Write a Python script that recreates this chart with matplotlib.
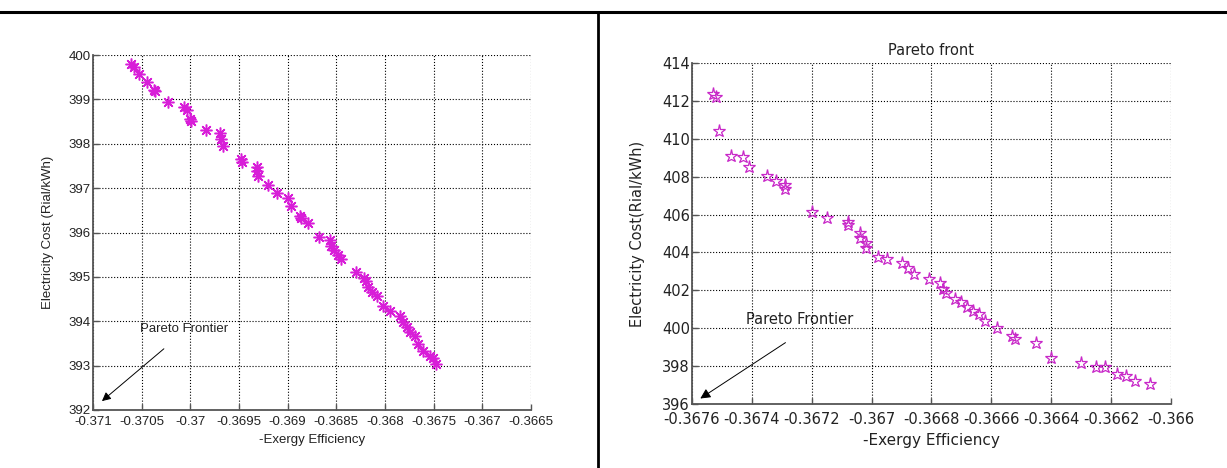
import matplotlib.pyplot as plt
from matplotlib.lines import Line2D

plt.rcParams['font.family'] = ['Liberation Sans', 'DejaVu Sans']

# left panel: '*' markers
left_x = [-0.37061, -0.37058, -0.37053, -0.37045, -0.37037, -0.37036, -0.37023, -0.37006,
          -0.37003, -0.37000, -0.36999, -0.36984, -0.36970, -0.36968, -0.36966, -0.36948,
          -0.36947, -0.36932, -0.36931, -0.36930, -0.36920, -0.36911, -0.36900, -0.36897,
          -0.36887, -0.36886, -0.36879, -0.36868, -0.36857, -0.36855, -0.36852, -0.36848,
          -0.36845, -0.36830, -0.36822, -0.36820, -0.36817, -0.36813, -0.36808, -0.36802,
          -0.36795, -0.36785, -0.36782, -0.36777, -0.36774, -0.36769, -0.36766, -0.36761,
          -0.36754, -0.36751, -0.36748]
left_y = [399.80, 399.74, 399.57, 399.39, 399.21, 399.18, 398.95, 398.82,
          398.76, 398.56, 398.51, 398.30, 398.24, 398.10, 397.94, 397.66,
          397.59, 397.48, 397.38, 397.28, 397.08, 396.89, 396.78, 396.60,
          396.37, 396.32, 396.22, 395.89, 395.83, 395.70, 395.60, 395.50,
          395.40, 395.12, 394.98, 394.91, 394.77, 394.66, 394.56, 394.35,
          394.22, 394.11, 393.98, 393.86, 393.76, 393.67, 393.49, 393.32,
          393.21, 393.17, 393.03]

# right panel: star markers
right_x = [-0.36753, -0.36752, -0.36751, -0.36747, -0.36743, -0.36741, -0.36735, -0.36732,
           -0.36729, -0.36729, -0.36720, -0.36715, -0.36708, -0.36708, -0.36704, -0.36704,
           -0.36702, -0.36702, -0.36698, -0.36695, -0.36690, -0.36688, -0.36686, -0.36681,
           -0.36677, -0.36676, -0.36675, -0.36672, -0.36670, -0.36668, -0.36666, -0.36664,
           -0.36662, -0.36658, -0.36653, -0.36652, -0.36645, -0.36640, -0.36630, -0.36625,
           -0.36622, -0.36618, -0.36615, -0.36612, -0.36607]
right_y = [412.35, 412.19, 410.41, 409.11, 409.02, 408.49, 408.05, 407.79,
           407.56, 407.33, 406.15, 405.83, 405.59, 405.45, 405.01, 404.78,
           404.48, 404.22, 403.74, 403.65, 403.42, 403.16, 402.86, 402.58,
           402.40, 402.05, 401.84, 401.52, 401.40, 401.13, 400.91, 400.73,
           400.38, 399.99, 399.59, 399.41, 399.20, 398.41, 398.18, 397.93,
           397.97, 397.58, 397.49, 397.23, 397.05]

left_xticks = [-0.371, -0.3705, -0.37, -0.3695, -0.369, -0.3685, -0.368, -0.3675, -0.367, -0.3665]
left_xlabels = ['-0.371', '-0.3705', '-0.37', '-0.3695', '-0.369', '-0.3685', '-0.368', '-0.3675', '-0.367', '-0.3665']
left_yticks = [392, 393, 394, 395, 396, 397, 398, 399, 400]
right_xticks = [-0.3676, -0.3674, -0.3672, -0.367, -0.3668, -0.3666, -0.3664, -0.3662, -0.366]
right_xlabels = ['-0.3676', '-0.3674', '-0.3672', '-0.367', '-0.3668', '-0.3666', '-0.3664', '-0.3662', '-0.366']
right_yticks = [396, 398, 400, 402, 404, 406, 408, 410, 412, 414]

W, H = 1227, 468
fig = plt.figure(figsize=(W / 100, H / 100), dpi=100)

# table frame lines
fig.add_artist(Line2D([0, 1], [1 - 12 / H, 1 - 12 / H], color='black', lw=2.2))
fig.add_artist(Line2D([598 / W, 598 / W], [0, 1 - 12 / H], color='black', lw=2.0))

TXT = '#222222'


def style(ax, fs, fam, xpad):
    for s in ['top', 'right']:
        ax.spines[s].set_visible(False)
    for s in ['left', 'bottom']:
        ax.spines[s].set_color('#555555')
        ax.spines[s].set_linewidth(1.3)
    ax.grid(True, linestyle=':', color='black', linewidth=0.8)
    ax.tick_params(direction='in', length=4, width=1, colors='#555555', labelcolor=TXT,
                   labelsize=fs, pad=1.5)
    ax.tick_params(axis='x', pad=xpad)
    for lab in ax.get_xticklabels() + ax.get_yticklabels():
        lab.set_family(fam)


ax1 = fig.add_axes([93 / W, 1 - 410 / H, (531 - 93) / W, (410 - 55) / H])
ax1.plot(left_x, left_y, linestyle='none', marker=(8, 2, 0), markersize=8.5, color='#d81ed8',
         markeredgewidth=1.1)
ax1.set_xlim(-0.371, -0.3665)
ax1.set_ylim(392, 400)
ax1.set_xticks(left_xticks)
ax1.set_xticklabels(left_xlabels)
ax1.set_yticks(left_yticks)
style(ax1, 9.5, 'Liberation Sans', 4.5)
ax1.set_xlabel('-Exergy Efficiency', fontsize=9.5, color=TXT)
ax1.xaxis.set_label_coords(0.5, -0.068)
ax1.set_ylabel('Electricity Cost (Rial/kWh)', fontsize=9.5, color=TXT)
ax1.yaxis.set_label_coords(-0.088, 0.5)
ax1.annotate('', xy=(-0.37093, 392.16), xytext=(-0.37025, 393.42),
             arrowprops=dict(arrowstyle='-|>', color='black', lw=0.7, mutation_scale=13))
ax1.text(-0.37052, 393.83, 'Pareto Frontier', fontsize=9.5, va='center', ha='left', color=TXT)

ax2 = fig.add_axes([692 / W, 1 - 404 / H, (1171 - 692) / W, (404 - 63) / H])
ax2.plot(right_x, right_y, linestyle='none', marker='*', markersize=9.5, markerfacecolor='none',
         markeredgecolor='#c828c8', markeredgewidth=0.9)
ax2.set_xlim(-0.3676, -0.366)
ax2.set_ylim(396, 414)
ax2.set_xticks(right_xticks)
ax2.set_xticklabels(right_xlabels)
ax2.set_yticks(right_yticks)
style(ax2, 10.5, 'DejaVu Sans', 5.5)
ax2.set_title('Pareto front', fontsize=10.5, pad=6, color=TXT, family='DejaVu Sans')
ax2.set_xlabel('-Exergy Efficiency', fontsize=11, color=TXT, family='DejaVu Sans')
ax2.xaxis.set_label_coords(0.5, -0.085)
ax2.set_ylabel('Electricity Cost(Rial/kWh)', fontsize=10.5, color=TXT, family='DejaVu Sans')
ax2.yaxis.set_label_coords(-0.098, 0.5)
ax2.annotate('', xy=(-0.36758, 396.21), xytext=(-0.36728, 399.32),
             arrowprops=dict(arrowstyle='-|>', color='black', lw=0.7, mutation_scale=15))
ax2.text(-0.36742, 400.48, 'Pareto Frontier', fontsize=10.5, va='center', ha='left', color=TXT,
         family='DejaVu Sans')

fig.savefig('out.png', dpi=100)
